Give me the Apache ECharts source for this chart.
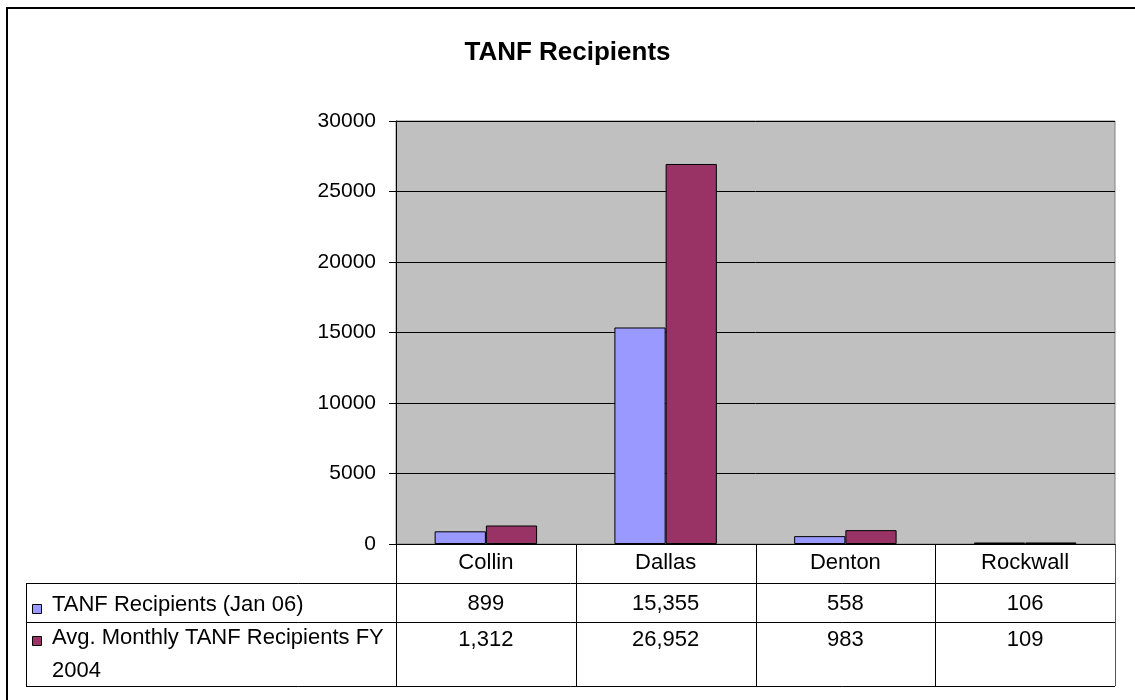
<!DOCTYPE html>
<html>
<head>
<meta charset="utf-8">
<title>TANF Recipients</title>
<script src="https://cdn.jsdelivr.net/npm/echarts@6/dist/echarts.min.js"></script>
<style>
    html, body { margin: 0; padding: 0; background: #fff; }
    #main { width: 1135px; height: 700px; }
</style>
</head>
<body>
<div id="main"></div>
<script>
var counties = ['Collin', 'Dallas', 'Denton', 'Rockwall'];
var seriesNames = ['TANF Recipients (Jan 06)', 'Avg. Monthly TANF Recipients FY 2004'];
var jan06 = [899, 15355, 558, 106];
var fy2004 = [1312, 26952, 983, 109];
var yTicks = [0, 5000, 10000, 15000, 20000, 25000, 30000];
var colors = ['#9999FF', '#993366'];

var FONT = 'Liberation Sans, Arial, sans-serif';

// grid box in px (plot area)
var G = { left: 396, top: 121, width: 719, height: 423 };
var right = G.left + G.width;
var bottom = G.top + G.height;
var rowH = [bottom + 39, bottom + 78, bottom + 142];   // header / row1 / row2 bottoms

function fmt(v) {
    return v.toLocaleString('en-US');
}

var chart = echarts.init(document.getElementById('main'));

var lineStyle = { stroke: '#000', lineWidth: 1 };
var graphics = [];
// outer border (chart area frame)
graphics.push({ type: 'rect', shape: { x: 7, y: 8, width: 1200, height: 800 },
    style: { fill: 'none', stroke: '#000', lineWidth: 2 }, silent: true });

// table horizontal lines
rowH.forEach(function (y) {
    graphics.push({ type: 'line', shape: { x1: 26, y1: y + 0.5, x2: right, y2: y + 0.5 }, style: lineStyle, silent: true });
});
// table vertical lines
graphics.push({ type: 'line', shape: { x1: 26.5, y1: rowH[0], x2: 26.5, y2: rowH[2] }, style: lineStyle, silent: true });
for (var i = 0; i <= counties.length; i++) {
    var x = Math.round(G.left + G.width * i / counties.length) + 0.5;
    graphics.push({ type: 'line', shape: { x1: x, y1: bottom, x2: x, y2: rowH[2] },
        style: { stroke: i === counties.length ? '#555' : '#000', lineWidth: 1 }, silent: true });
}
// row headers with legend keys
var keyY = [604, 636];
var textY = [rowH[0] + 5, rowH[1] - 1];
seriesNames.forEach(function (name, k) {
    graphics.push({ type: 'rect', shape: { x: 32.5, y: keyY[k] + 0.5, width: 9, height: 9 },
        style: { fill: colors[k], stroke: '#000', lineWidth: 1 }, silent: true });
    graphics.push({ type: 'text', x: 52, y: textY[k],
        style: { text: k === 0 ? name : 'Avg. Monthly TANF Recipients FY\n2004',
            font: '22px ' + FONT, fill: '#000', lineHeight: 33 }, silent: true });
});

var option = {
    animation: false,
    backgroundColor: '#fff',
    title: {
        text: 'TANF Recipients',
        left: 'center',
        top: 35,
        textStyle: { fontFamily: FONT, fontSize: 26, fontWeight: 'bold', color: '#000' }
    },
    grid: {
        left: G.left, top: G.top, width: G.width, height: G.height,
        show: true, backgroundColor: '#C0C0C0', borderColor: '#808080', borderWidth: 1
    },
    xAxis: [
        {
            type: 'category', data: counties, position: 'bottom',
            axisLine: { lineStyle: { color: '#000', width: 1 } },
            axisTick: { show: false },
            axisLabel: { margin: 8, fontFamily: FONT, fontSize: 22, color: '#000' }
        },
        {
            type: 'category', data: counties, position: 'bottom', offset: 41,
            axisLine: { show: false }, axisTick: { show: false },
            axisLabel: { margin: 8, fontFamily: FONT, fontSize: 22, color: '#000',
                formatter: function (v, idx) { return fmt(jan06[idx]); } }
        },
        {
            type: 'category', data: counties, position: 'bottom', offset: 77,
            axisLine: { show: false }, axisTick: { show: false },
            axisLabel: { margin: 8, fontFamily: FONT, fontSize: 22, color: '#000',
                formatter: function (v, idx) { return fmt(fy2004[idx]); } }
        }
    ],
    yAxis: {
        type: 'value',
        min: yTicks[0], max: yTicks[yTicks.length - 1], interval: yTicks[1] - yTicks[0],
        axisLine: { show: true, lineStyle: { color: '#000' } },
        axisTick: { show: true, inside: false, length: 7, lineStyle: { color: '#000' } },
        axisLabel: { margin: 20, fontFamily: FONT, fontSize: 21, color: '#000',
            formatter: function (v) { return String(v); } },
        splitLine: { show: true, lineStyle: { color: '#000', width: 1 } }
    },
    series: [
        {
            name: seriesNames[0], type: 'bar', data: jan06,
            barGap: '0%', barCategoryGap: '43%',
            itemStyle: { color: colors[0], borderColor: '#000', borderWidth: 1 }
        },
        {
            name: seriesNames[1], type: 'bar', data: fy2004,
            barGap: '0%', barCategoryGap: '43%',
            itemStyle: { color: colors[1], borderColor: '#000', borderWidth: 1 }
        }
    ],
    graphic: graphics
};

option && chart.setOption(option);
</script>
</body>
</html>
